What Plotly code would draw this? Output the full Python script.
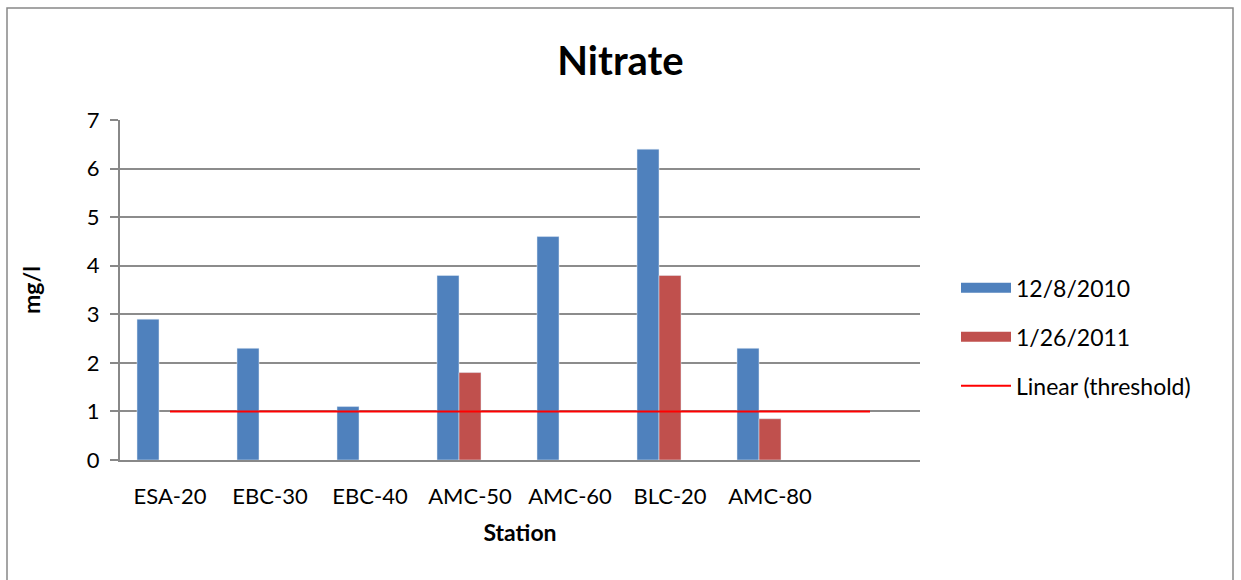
import plotly.graph_objects as go

stations = ["ESA-20", "EBC-30", "EBC-40", "AMC-50", "AMC-60", "BLC-20", "AMC-80", ""]
dec_2010 = [2.9, 2.3, 1.1, 3.8, 4.6, 6.4, 2.3, None]
jan_2011 = [None, None, None, 1.8, None, 3.8, 0.85, None]
threshold = [1, 1, 1, 1, 1, 1, 1, 1]
y_ticks = [0, 1, 2, 3, 4, 5, 6, 7]

xpos = list(range(len(stations)))
FONT = "Lato"
BLUE = "#4F81BD"
RED = "#C0504D"

fig = go.Figure()
fig.add_trace(go.Bar(x=xpos, y=dec_2010, name="12/8/2010", marker_color=BLUE,
                     width=0.22, offset=-0.33, showlegend=False))
fig.add_trace(go.Bar(x=xpos, y=jan_2011, name="1/26/2011", marker_color=RED,
                     width=0.22, offset=-0.11, showlegend=False))
fig.add_trace(go.Scatter(x=xpos, y=threshold, name="Linear (threshold)", mode="lines",
                         line=dict(color="#FF0000", width=2), showlegend=False))
# legend entries (wide swatches like the original)
fig.add_trace(go.Scatter(x=[None], y=[None], name="12/8/2010", mode="lines",
                         line=dict(color=BLUE, width=15), legendgroup="a"))
fig.add_trace(go.Scatter(x=[None], y=[None], name="1/26/2011", mode="lines",
                         line=dict(color=RED, width=15), legendgroup="b"))
fig.add_trace(go.Scatter(x=[None], y=[None], name="Linear (threshold)", mode="lines",
                         line=dict(color="#FF0000", width=2), legendgroup="c"))

fig.update_layout(
    width=1241, height=580,
    margin=dict(l=120, r=321, t=120, b=120),
    paper_bgcolor="white", plot_bgcolor="white",
    font=dict(family=FONT, size=22, color="black"),
    title=dict(text="<b>Nitrate</b>", x=0.5, xref="container", xanchor="center",
               y=1 - 61 / 580, yref="container", yanchor="middle",
               font=dict(size=40, family=FONT)),
    barmode="overlay",
    showlegend=True,
    legend=dict(x=1.045, xanchor="left", y=0.362, yanchor="middle",
                traceorder="grouped", tracegroupgap=16,
                font=dict(size=23, family=FONT), itemwidth=50),
    xaxis=dict(tickmode="array", tickvals=xpos, ticktext=stations,
               range=[-0.5, 7.5], showgrid=False, showline=True,
               linecolor="#888888", linewidth=2, ticks="", ticklabelstandoff=16,
               title=dict(text="<b>Station</b>", font=dict(size=23), standoff=16)),
    yaxis=dict(tickmode="array", tickvals=y_ticks, range=[0, 7],
               showgrid=True, gridcolor="#8C8C8C", gridwidth=2,
               showline=True, linecolor="#888888", linewidth=2,
               ticks="outside", ticklen=8, tickcolor="#888888", tickwidth=2,
               ticklabelstandoff=6,
               title=dict(text="<b>mg/l</b>", font=dict(size=23), standoff=40)),
    shapes=[dict(type="rect", xref="paper", yref="paper",
                 x0=(7 - 120) / 800, x1=(1233 - 120) / 800,
                 y0=-0.5, y1=(460 - 8) / 340,
                 line=dict(color="#888888", width=1.5), layer="below")],
)

fig.write_html("out.html")
